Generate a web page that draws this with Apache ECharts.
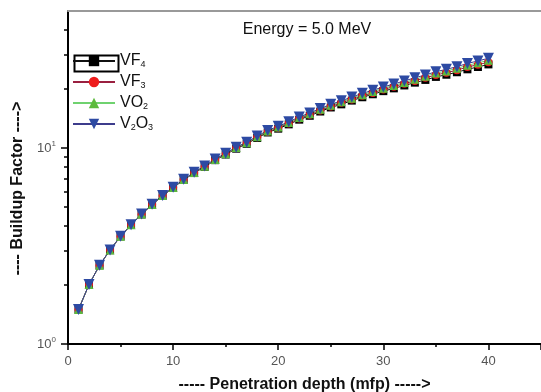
<!DOCTYPE html>
<html>
<head>
<meta charset="utf-8">
<script src="https://cdn.jsdelivr.net/npm/echarts@6/dist/echarts.min.js"></script>
<style>
  html, body { margin: 0; padding: 0; background: #fff; }
  #chart { width: 541px; height: 392px; }
</style>
</head>
<body>
<div id="chart"></div>
<script>
// penetration depth (mfp)
const depth = [1, 2, 3, 4, 5, 6, 7, 8, 9, 10, 11, 12, 13, 14, 15, 16, 17, 18, 19, 20,
  21, 22, 23, 24, 25, 26, 27, 28, 29, 30, 31, 32, 33, 34, 35, 36, 37, 38, 39, 40];

// buildup factor
const vf4 = [1.50, 2.01, 2.52, 3.01, 3.54, 4.05, 4.58, 5.14, 5.70, 6.27, 6.87, 7.45, 8.01, 8.67, 9.26,
  9.92, 10.5, 11.25, 12.0, 12.55, 13.2, 13.95, 14.6, 15.35, 16.1, 16.7, 17.45, 18.15, 18.8, 19.5,
  20.15, 20.85, 21.55, 22.25, 23.05, 23.65, 24.35, 25.2, 25.9, 26.7];
const vf3 = [1.50, 2.01, 2.52, 3.02, 3.55, 4.05, 4.59, 5.15, 5.71, 6.28, 6.89, 7.48, 8.05, 8.71, 9.31,
  9.99, 10.6, 11.35, 12.1, 12.7, 13.35, 14.15, 14.8, 15.55, 16.3, 17.0, 17.7, 18.45, 19.1, 19.9,
  20.55, 21.3, 22.0, 22.8, 23.6, 24.2, 24.95, 25.9, 26.6, 27.4];
const vo2 = [1.50, 2.01, 2.52, 3.02, 3.55, 4.06, 4.60, 5.15, 5.72, 6.29, 6.90, 7.50, 8.08, 8.74, 9.35,
  10.05, 10.65, 11.42, 12.2, 12.8, 13.5, 14.3, 14.95, 15.75, 16.5, 17.2, 17.95, 18.7, 19.4, 20.2,
  20.85, 21.6, 22.4, 23.2, 24.1, 24.7, 25.5, 26.4, 27.2, 28.0];
const v2o3 = [1.50, 2.01, 2.52, 3.02, 3.55, 4.06, 4.60, 5.16, 5.72, 6.30, 6.92, 7.52, 8.10, 8.78, 9.40,
  10.1, 10.7, 11.5, 12.3, 12.9, 13.6, 14.4, 15.1, 15.9, 16.7, 17.4, 18.2, 19.0, 19.7, 20.5,
  21.2, 22.0, 22.8, 23.6, 24.5, 25.2, 26.0, 27.0, 27.8, 28.7];

const yMajor = [1, 10];
const yMinor = [2, 3, 4, 5, 6, 7, 8, 9, 20, 30, 40];

const pairs = (ys) => depth.map((d, i) => [d, ys[i]]);

const chart = echarts.init(document.getElementById('chart'));

const font = 'Liberation Sans, Arial, sans-serif';

const mkSeries = (name, data, symbol, rotate, symColor, lineColor, size) => ({
  name: name,
  type: 'line',
  data: pairs(data),
  symbol: symbol,
  symbolRotate: rotate,
  symbolSize: size,
  itemStyle: { color: symColor },
  lineStyle: { color: lineColor, width: 1 },
  animation: false
});

const option = {
  animation: false,
  textStyle: { fontFamily: font },
  title: {
    text: 'Energy = 5.0 MeV',
    left: 302,
    top: 17,
    textAlign: 'center',
    textStyle: { fontSize: 16, fontWeight: 'normal', color: '#111', fontFamily: font }
  },
  grid: { left: 68, right: 0, top: 11, bottom: 48, outerBoundsMode: 'none', containLabel: false },
  legend: {
    orient: 'vertical',
    left: 72,
    top: 52,
    padding: 0,
    itemWidth: 42,
    itemHeight: 13,
    itemGap: 3,
    textStyle: {
      fontSize: 16,
      lineHeight: 18,
      color: '#111',
      fontFamily: font,
      rich: { sub: { fontSize: 9, lineHeight: 10, color: '#111', padding: [8, 0, 0, 0] } }
    },
    formatter: (n) => ({
      'VF4': 'VF{sub|4}', 'VF3': 'VF{sub|3}', 'VO2': 'VO{sub|2}', 'V2O3': 'V{sub|2}O{sub|3}'
    })[n],
    data: ['VF4', 'VF3', 'VO2', 'V2O3']
  },
  graphic: [{
    type: 'rect',
    left: 72, top: 53,
    shape: { width: 44, height: 16 },
    style: { fill: 'none', stroke: '#000', lineWidth: 2 }
  }],
  xAxis: [{
    type: 'value',
    min: 0,
    max: 45,
    interval: 10,
    name: '----- Penetration depth (mfp) ----->',
    nameLocation: 'middle',
    nameGap: 33,
    nameTextStyle: { fontSize: 16, fontWeight: 'bold', color: '#111' },
    axisLine: { lineStyle: { color: '#000', width: 2 } },
    axisTick: { length: 6, lineStyle: { color: '#000', width: 1.5 } },
    minorTick: { show: true, splitNumber: 2, length: 3, lineStyle: { color: '#000', width: 1.5 } },
    axisLabel: { fontSize: 13, color: '#555', margin: 11, showMaxLabel: false },
    splitLine: { show: false }
  }, {
    type: 'value',
    position: 'top',
    min: 0,
    max: 45,
    axisLine: { show: true, onZero: false, lineStyle: { color: '#999', width: 2 } },
    axisTick: { show: false },
    axisLabel: { show: false },
    splitLine: { show: false }
  }],
  yAxis: [{
    type: 'log',
    logBase: 10,
    min: 1,
    max: 50,
    name: '---- Buildup Factor ---->',
    nameLocation: 'middle',
    nameGap: 42,
    nameTextStyle: { fontSize: 16, fontWeight: 'bold', color: '#111', padding: [0, 22, 0, 0] },
    axisLine: { show: true, lineStyle: { color: '#000', width: 2 } },
    axisTick: { show: true, length: 7, customValues: yMajor, lineStyle: { color: '#000', width: 1.5 } },
    axisLabel: {
      customValues: yMajor,
      fontSize: 13,
      color: '#555',
      margin: 12,
      formatter: (v) => (v === 1 ? '10{s|0}' : '10{s|1}'),
      rich: { s: { fontSize: 8, color: '#555', padding: [0, 0, 9, 0] } }
    },
    splitLine: { show: false }
  }, {
    type: 'log',
    logBase: 10,
    min: 1,
    max: 50,
    position: 'left',
    axisLine: { show: false },
    axisTick: { show: true, length: 4, customValues: yMinor, lineStyle: { color: '#000', width: 1.5 } },
    axisLabel: { show: false },
    splitLine: { show: false }
  }],
  series: [
    mkSeries('VF4', vf4, 'rect', 0, '#000', '#111', 8),
    mkSeries('VF3', vf3, 'circle', 0, '#ee1c1c', '#9a2040', 8),
    mkSeries('VO2', vo2, 'triangle', 0, '#5cba3c', '#6fd26f', 9),
    mkSeries('V2O3', v2o3, 'triangle', 180, '#2d4aa3', '#3d3c8c', 11)
  ]
};

chart.setOption(option);
</script>
</body>
</html>
